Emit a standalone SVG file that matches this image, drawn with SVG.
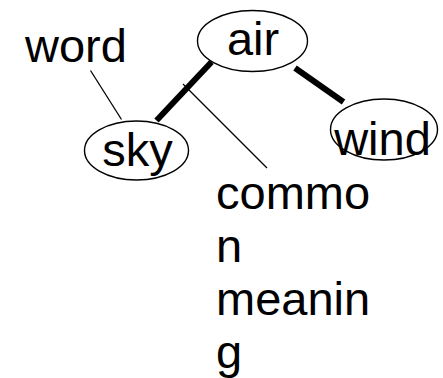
<svg xmlns="http://www.w3.org/2000/svg" width="443" height="378" viewBox="0 0 443 378">
<style>
text{font-family:"Liberation Sans",Arial,sans-serif;font-size:47px;fill:#000}
.node ellipse{fill:#fff;stroke:#000;stroke-width:1.4}
.thick{stroke:#000;stroke-width:6;stroke-linecap:butt}
.thin{stroke:#000;stroke-width:1.3}
</style>
<rect width="443" height="378" fill="#fff"/>
<g id="connectors">
<line class="thick" x1="211.5" y1="62" x2="156.5" y2="120.5"/>
<line class="thick" x1="295" y1="68" x2="343.5" y2="102"/>
<line class="thin" x1="90.5" y1="70.5" x2="121.5" y2="119.5"/>
<line class="thin" x1="183" y1="84" x2="267" y2="168"/>
</g>
<g id="air" class="node">
<ellipse cx="252.5" cy="41" rx="55" ry="30.5"/>
<text x="253" y="55" text-anchor="middle">air</text>
</g>
<g id="sky" class="node">
<ellipse cx="136.5" cy="150.5" rx="52" ry="29.5"/>
<text x="137.5" y="166" text-anchor="middle">sky</text>
</g>
<g id="wind" class="node">
<ellipse cx="384" cy="129.5" rx="53.5" ry="30.5"/>
<text x="382.5" y="155" text-anchor="middle">wind</text>
</g>
<g id="word">
<text x="25" y="62">word</text>
</g>
<g id="common-meaning">
<text x="216" y="209">commo</text>
<text x="216" y="262">n</text>
<text x="216" y="315">meanin</text>
<text x="216" y="368">g</text>
</g>
</svg>
